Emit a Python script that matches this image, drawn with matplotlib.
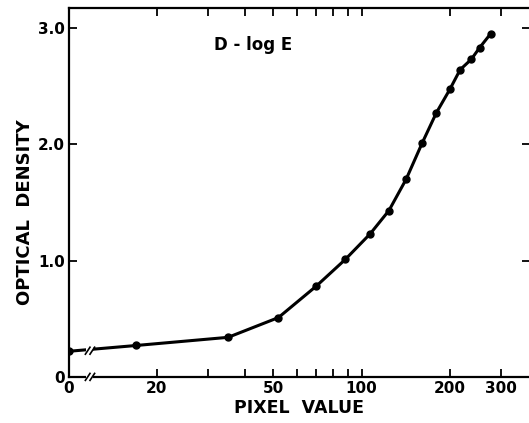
import numpy as np
import matplotlib
matplotlib.use("Agg")
import matplotlib.pyplot as plt
import matplotlib.transforms as mtransforms

# pixel value vs optical density
pixel = [0, 17, 35, 52, 70, 88, 107, 124, 142, 161, 180, 200, 217, 237, 253, 276]
density = [0.22, 0.27, 0.34, 0.51, 0.78, 1.01, 1.23, 1.43, 1.70, 2.01, 2.27, 2.47,
           2.64, 2.73, 2.83, 2.95]

x_ticks = [0, 20, 50, 100, 200, 300]
x_minor = [30, 40, 60, 70, 80, 90]
y_ticks = [0, 1.0, 2.0, 3.0]
y_labels = ["0", "1.0", "2.0", "3.0"]

ZERO_POS = 10  # where "0" sits on the broken log axis

def xpos(v):
    v = np.asarray(v, dtype=float)
    return np.where(v == 0, ZERO_POS, v)

plt.rcParams['font.family'] = 'DejaVu Sans'
plt.rcParams['font.weight'] = 'bold'

fig = plt.figure(figsize=(5.29, 4.23), dpi=100)
ax = fig.add_axes([0.130, 0.109, 0.872, 0.872])

ax.plot(xpos(pixel), density, "-", color="black", lw=2.2)
ax.plot(xpos(pixel), density, "o", color="black", ms=5)

ax.set_xscale("log")
ax.set_xlim(10, 376)
ax.set_ylim(0, 3.17)

ax.set_xticks(xpos(x_ticks))
ax.set_xticklabels([str(t) for t in x_ticks])
ax.set_xticks(x_minor, minor=True)
ax.xaxis.set_minor_formatter(matplotlib.ticker.NullFormatter())
ax.set_yticks(y_ticks)
ax.set_yticklabels(y_labels)

ax.tick_params(axis="both", which="both", direction="in", top=True, right=True,
               length=6, width=1.3, labelsize=11, pad=3)
for s in ax.spines.values():
    s.set_linewidth(1.6)

ax.set_xlabel("PIXEL  VALUE", fontsize=12.5, fontweight="bold", labelpad=2)
fig.text(25 / 529, 1 - 212 / 423, "OPTICAL  DENSITY", rotation=90, fontsize=13,
         fontweight="bold", ha="center", va="center")

ax.text(0.40, 0.90, "D - log E", transform=ax.transAxes, fontsize=12,
        fontweight="bold", ha="center", va="center")

# axis break marks on the x axis and on the curve
trans = mtransforms.blended_transform_factory(ax.transAxes, ax.transData)
for yb in [0.0, 0.225]:
    ax.add_patch(plt.Rectangle((0.038, yb - 0.04), 0.014, 0.08, transform=trans,
                               facecolor="white", edgecolor="none", zorder=5,
                               clip_on=False))
    for xb in [0.041, 0.051]:
        ax.plot([xb - 0.005, xb + 0.005], [yb - 0.03, yb + 0.03], color="black",
                lw=1.2, transform=trans, zorder=6, clip_on=False)

fig.savefig("out.png", dpi=100)
